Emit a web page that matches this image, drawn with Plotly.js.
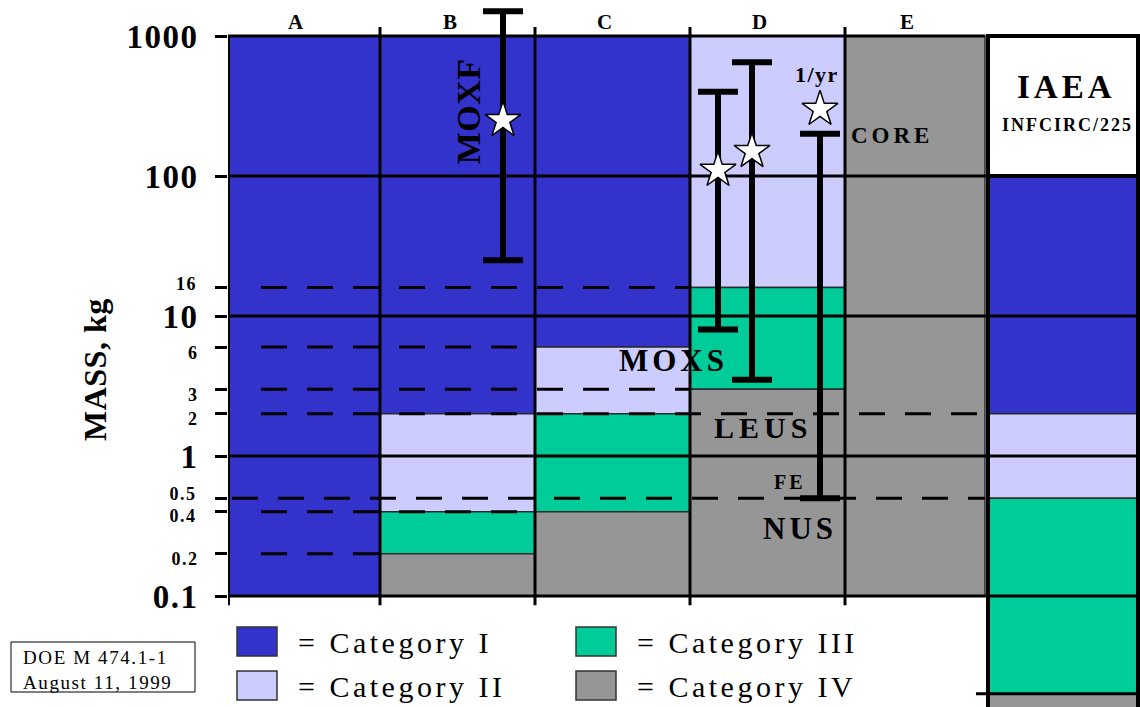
<!DOCTYPE html>
<html>
<head>
<meta charset="utf-8">
<script src="https://cdn.plot.ly/plotly-3.0.1.min.js"></script>
<style>
  html, body { margin: 0; padding: 0; background: #fff; }
  #chart { width: 1140px; height: 707px; }
  .ytick text { letter-spacing: 1.5px; }
</style>
</head>
<body>
<div id="chart"></div>
<script>
// ---- Data --------------------------------------------------------------
const columns = ['A', 'B', 'C', 'D', 'E', 'IAEA'];
const categoryNames = ['Category I', 'Category II', 'Category III', 'Category IV'];

// Mass range (kg) of each category in each column; null where absent
const catILow    = [0.1, 2, 6, null, null, 2];
const catIHigh   = [1000, 1000, 1000, null, null, 100];
const catIILow   = [null, 0.4, 2, 16, null, 0.5];
const catIIHigh  = [null, 2, 6, 1000, null, 2];
const catIIILow  = [null, 0.2, 0.4, 3, null, 0.02];
const catIIIHigh = [null, 0.4, 2, 16, null, 0.5];
const catIVLow   = [null, 0.1, 0.1, 0.1, 0.1, 0.01];
const catIVHigh  = [null, 0.2, 0.4, 3, 1000, 0.02];

// Material ranges (kg): vertical range bars with a star
const materialNames  = ['MOXF', 'MOXS', 'MOXS', 'FE'];
const materialColumn = ['B', 'D', 'D', 'D'];
const materialLow    = [25, 8, 3.5, 0.5];
const materialHigh   = [1500, 400, 650, 200];
const materialStar   = [250, 110, 150, 300];

// Threshold levels (kg)
const solidLevels = [1000, 100, 10, 1, 0.1];
const dashedLevels = [16, 6, 3, 2, 0.5, 0.4, 0.2];
const dashedLastColumn = ['C', 'B', 'C', 'E', 'E', 'B', 'A'];

// Axis tick labels
const majorTicks = [0.1, 1, 10, 100, 1000];
const majorTickText = ['0.1', '1', '10', '100', '1000'];
const minorTicks = [0.2, 0.4, 0.5, 2, 3, 6, 16];
const minorTickText = ['0.2', '0.4', '0.5', '2', '3', '6', '16'];

// ---- Geometry & style --------------------------------------------------
const FONT = '"Liberation Serif", "Times New Roman", Times, serif';
const W = 1140, H = 707, ML = 228;
const COL_PX = 155, A_CENTER_PX = 304;
const xOf = p => (p - A_CENTER_PX) / COL_PX;
const paperX = p => (p - ML) / (W - ML);
const paperY = p => 1 - p / H;
const colEdgesPx = {A: [228, 380], B: [380, 535], C: [535, 690], D: [690, 845], E: [845, 985], IAEA: [987, 1139]};
const colCenter = c => xOf((colEdgesPx[c][0] + colEdgesPx[c][1]) / 2);
const colWidth = c => (colEdgesPx[c][1] - colEdgesPx[c][0]) / COL_PX;
const materialPx = [503, 718, 752, 820];
// log axis: 0.1 kg sits 596 px down, 140 px per decade
const Y_RANGE = [-1 - (H - 596) / 140, -1 + 596 / 140];
const catColors = ['#3333CC', '#CCCCFF', '#00CC99', '#969696'];
// closely spaced minor labels are set as separate texts, nudged apart (px)
const minorNudge = {'16': 3, '0.5': 4, '0.4': -4};

// ---- Category blocks ---------------------------------------------------
const lows = [catILow, catIILow, catIIILow, catIVLow];
const highs = [catIHigh, catIIHigh, catIIIHigh, catIVHigh];
const traces = categoryNames.map((name, k) => ({
  type: 'bar', name,
  x: columns.map(colCenter),
  width: columns.map(colWidth),
  base: lows[k],
  y: highs[k].map((h, i) => h == null ? null : h - lows[k][i]),
  marker: {color: catColors[k], opacity: 1, line: {color: '#2a2a2a', width: 1.5}},
  hoverinfo: 'skip', showlegend: false
}));

// ---- Solid threshold lines --------------------------------------------
const solidX = [], solidY = [];
solidLevels.forEach(v => {
  const end = v === 1000 ? colEdgesPx.E[1] : W;
  solidX.push(xOf(ML), xOf(end), null);
  solidY.push(v, v, null);
});
solidX.push(xOf(976), xOf(W), null);
solidY.push(catIIILow[5], catIIILow[5], null);
traces.push({type: 'scatter', mode: 'lines', x: solidX, y: solidY,
  line: {color: '#000', width: 3}, hoverinfo: 'skip', showlegend: false});

// ---- Dashed threshold lines -------------------------------------------
dashedLevels.forEach((v, i) => {
  const start = v === 0.5 ? 232 : 261;
  const end = colEdgesPx[dashedLastColumn[i]][1];
  traces.push({type: 'scatter', mode: 'lines', x: [xOf(start), xOf(end)], y: [v, v],
    line: {color: '#000', width: 3, dash: '26px,20px'}, hoverinfo: 'skip', showlegend: false});
});

// ---- Column dividers ---------------------------------------------------
const divX = [], divY = [];
['B', 'C', 'D', 'E'].forEach(c => {
  const p = colEdgesPx[c][0];
  divX.push(xOf(p), xOf(p), null);
  divY.push(0.086, 1160, null);
});
traces.push({type: 'scatter', mode: 'lines', x: divX, y: divY,
  line: {color: '#000', width: 3}, hoverinfo: 'skip', showlegend: false});
traces.push({type: 'scatter', mode: 'lines', x: [xOf(228), xOf(228)], y: [0.086, 1000],
  line: {color: '#000', width: 4}, hoverinfo: 'skip', showlegend: false});
traces.push({type: 'scatter', mode: 'lines',
  x: [xOf(988), xOf(988), null, xOf(1138), xOf(1138)],
  y: [0.01, 1000, null, 0.01, 1000],
  line: {color: '#000', width: 4}, hoverinfo: 'skip', showlegend: false});

// ---- Material range bars and stars -------------------------------------
traces.push({
  type: 'scatter', mode: 'markers', name: 'range',
  x: materialPx.map(xOf), y: materialLow,
  marker: {size: 1, opacity: 0},
  error_y: {type: 'data', symmetric: false,
    array: materialHigh.map((h, i) => h - materialLow[i]),
    arrayminus: materialLow.map(() => 0),
    color: '#000', thickness: 6, width: 20},
  text: materialNames, hoverinfo: 'skip', showlegend: false
});
traces.push({
  type: 'scatter', mode: 'markers', name: 'star',
  x: materialPx.map(xOf), y: materialStar,
  marker: {symbol: 'star', size: 27, color: '#fff', line: {color: '#000', width: 1.5}},
  text: materialNames, hoverinfo: 'skip', showlegend: false
});

// ---- Text --------------------------------------------------------------
const annotations = [];
const spacing = [];
function addText(text, opt, size, weight, ls) {
  annotations.push(Object.assign({
    text, showarrow: false,
    font: {family: FONT, size, color: '#000', weight},
    xanchor: 'center', yanchor: 'middle'
  }, opt));
  spacing.push(ls || 0);
}
const log = Math.log10;

columns.slice(0, 5).forEach(c => addText(c,
  {xref: 'x', x: colCenter(c), xshift: -8, yref: 'paper', y: paperY(22)}, 21, 'bold', 0));

addText('MOXF', {xref: 'x', x: xOf(468), yref: 'y', y: log(290), textangle: -90}, 34, 'bold', 0.5);
addText('MOXS', {xref: 'x', x: xOf(673), yref: 'y', y: log(4.8)}, 31, 'bold', 4);
addText('LEUS', {xref: 'x', x: xOf(763), yref: 'y', y: log(1.61)}, 30, 'bold', 5);
addText('FE', {xref: 'x', x: xOf(790), yref: 'y', y: log(0.647)}, 20, 'bold', 3);
addText('NUS', {xref: 'x', x: xOf(800), yref: 'y', y: log(0.305)}, 31, 'bold', 4);
addText('CORE', {xref: 'x', x: xOf(892), yref: 'y', y: log(194)}, 23, 'bold', 4);
addText('1/yr', {xref: 'x', x: xOf(817), yref: 'y', y: log(533)}, 22, 'bold', 1.5);
addText('IAEA', {xref: 'x', x: xOf(1066), yref: 'y', y: log(433)}, 33, 'bold', 4);
addText('INFCIRC/225', {xref: 'x', x: xOf(1067), yref: 'y', y: log(231)}, 18, 'bold', 2);

addText('MASS, kg', {xref: 'paper', x: paperX(95), yref: 'paper', y: paperY(370), textangle: -90}, 32, 'bold', 0.5);

// minor tick labels that sit close to a neighbour
minorTicks.forEach((v, i) => {
  const t = minorTickText[i];
  if (!(t in minorNudge)) return;
  addText(t, {xref: 'paper', x: paperX(199), xanchor: 'right', align: 'right',
    yref: 'y', y: log(v), yshift: minorNudge[t]}, 18, 'bold', 1.5);
});

// legend
const legendPos = [[237, 627], [237, 671], [576, 627], [576, 671]];
const shapes = [];
categoryNames.forEach((name, k) => {
  const [px, py] = legendPos[k];
  shapes.push({type: 'rect', xref: 'paper', yref: 'paper',
    x0: paperX(px), x1: paperX(px + 40), y0: paperY(py + 29), y1: paperY(py),
    fillcolor: catColors[k], line: {color: '#333', width: 1.5}});
  addText('= ' + name, {xref: 'paper', x: paperX(px + 59), yref: 'paper', y: paperY(py + 15),
    xanchor: 'left', align: 'left'}, 30, 'normal', 3.5);
});

// IAEA heading box
shapes.push({type: 'rect', xref: 'x', yref: 'y', x0: xOf(988), x1: xOf(1138), y0: 100, y1: 1000,
  fillcolor: '#fff', line: {color: '#000', width: 4}});

// document reference box
shapes.push({type: 'rect', xref: 'paper', yref: 'paper',
  x0: paperX(11), x1: paperX(195), y0: paperY(692), y1: paperY(642),
  fillcolor: '#fff', line: {color: '#000', width: 1}});
addText('DOE M 474.1-1', {xref: 'paper', x: paperX(21), yref: 'paper', y: paperY(657),
  xanchor: 'left', align: 'left'}, 19, 'normal', 1.6);
addText('August 11, 1999', {xref: 'paper', x: paperX(21), yref: 'paper', y: paperY(682),
  xanchor: 'left', align: 'left'}, 19, 'normal', 1.6);

// per-label letter spacing
const css = spacing.map((s, i) => s ? `.annotation[data-index="${i}"] text { letter-spacing: ${s}px; }` : '').join('\n');
const styleEl = document.createElement('style');
styleEl.textContent = css;
document.head.appendChild(styleEl);

// ---- Layout ------------------------------------------------------------
const layout = {
  width: W, height: H,
  margin: {l: ML, r: 0, t: 0, b: 0},
  paper_bgcolor: '#fff', plot_bgcolor: 'rgba(0,0,0,0)',
  barmode: 'overlay', showlegend: false,
  font: {family: FONT, color: '#000'},
  xaxis: {range: [xOf(ML), xOf(W)], visible: false, fixedrange: true},
  yaxis: {
    type: 'log', range: Y_RANGE, fixedrange: true,
    showgrid: false, zeroline: false, showline: false, automargin: false,
    ticks: 'outside', ticklen: 12, tickwidth: 3, tickcolor: '#000',
    tickvals: majorTicks.concat(minorTicks),
    ticktext: majorTickText.concat(minorTickText.map(t =>
      t in minorNudge ? '' : `<span style="font-size:18px">${t}</span>`)),
    tickfont: {family: FONT, size: 33, color: '#000', weight: 'bold'},
    ticklabelstandoff: 10
  },
  shapes, annotations
};

Plotly.newPlot('chart', traces, layout, {displayModeBar: false, staticPlot: true});
</script>
</body>
</html>
